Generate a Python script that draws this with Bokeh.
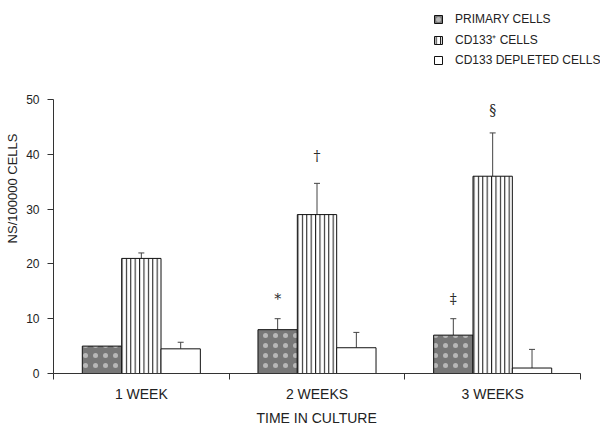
from bokeh.plotting import figure
from bokeh.models import (ColumnDataSource, Range1d, FixedTicker, Whisker, TeeHead,
                          Legend, LegendItem, Title)
from bokeh.core.properties import value
from bokeh.embed import file_html
from bokeh.resources import INLINE

# ---- data ----
categories = ["1 WEEK", "2 WEEKS", "3 WEEKS"]
series_names = ["PRIMARY CELLS", "CD133\u207a CELLS", "CD133 DEPLETED CELLS"]
primary = [5.0, 8.0, 7.0]
primary_err = [0.0, 2.0, 3.0]
cd133 = [21.0, 29.0, 36.0]
cd133_err = [1.0, 5.7, 7.9]
depleted = [4.5, 4.7, 1.0]
depleted_err = [1.2, 2.8, 3.4]
sig_labels = ["*", "\u2020", "\u2021", "\u00a7"]
sig_group = [1, 1, 2, 2]
sig_series = [0, 1, 0, 1]
sig_y = [13.6, 39.6, 13.6, 48.0]
y_ticks = [0, 10, 20, 30, 40, 50]
y_max = 50
x_title = "TIME IN CULTURE"
y_title = "NS/100000 CELLS"

FONT = "Liberation Sans"
TXT = "#222222"
AX = "#333333"
BW = 0.224

# axes span: x from 53 px to 580 px, y value 0 at 373 px and 50 at 99 px.
# The frame is extended to the top and right edges so the legend is not clipped.
n = len(categories)
px_per_unit = (373 - 99) / y_max
y_top = (373 - 3) / px_per_unit
x_right = n * (600 - 53) / (580 - 53)

p = figure(width=600, height=432, output_backend="svg", toolbar_location=None,
           x_range=Range1d(0, x_right), y_range=Range1d(0, y_top),
           min_border_left=53, min_border_right=0, min_border_top=3,
           min_border_bottom=59)
p.outline_line_color = None
p.xgrid.visible = False
p.ygrid.visible = False
p.background_fill_color = "white"
p.border_fill_color = "white"

series = [primary, cd133, depleted]
errs = [primary_err, cd133_err, depleted_err]
offsets = [-BW, 0.0, BW]
styles = [
    dict(fill_color="#777777", hatch_pattern="dot", hatch_color="#b8b8b8",
         hatch_scale=10, hatch_weight=2.5),
    dict(fill_color="white", hatch_pattern="vertical_line", hatch_color="#111111",
         hatch_scale=4.4, hatch_weight=1),
    dict(fill_color="white"),
]

renderers = []
for vals, er, off, st in zip(series, errs, offsets, styles):
    xs = [i + 0.5 + off for i in range(n)]
    src = ColumnDataSource(dict(x=xs, top=vals))
    r = p.vbar(x="x", top="top", width=BW, bottom=0, source=src,
               line_color="#111111", line_width=1, **st)
    renderers.append(r)
    wx, wl, wu = [], [], []
    for x, v, e in zip(xs, vals, er):
        if e > 0:
            wx.append(x); wl.append(v); wu.append(v + e)
    wsrc = ColumnDataSource(dict(base=wx, lower=wl, upper=wu))
    p.add_layout(Whisker(source=wsrc, base="base", lower="lower", upper="upper",
                         dimension="height", line_color="#444444", line_width=1,
                         lower_head=None,
                         upper_head=TeeHead(size=6, line_color="#444444", line_width=1)))

# significance marks
sx = [g + 0.5 + offsets[s] for g, s in zip(sig_group, sig_series)]
p.text(x=sx, y=sig_y, text=sig_labels, text_align="center", text_baseline="middle",
       text_font=value("DejaVu Serif"), text_font_size="14px", text_color="#2a2a2a")

# axes
xa = p.xaxis[0]
xa.ticker = FixedTicker(ticks=[i + 0.5 for i in range(n)],
                        minor_ticks=list(range(n + 1)))
xa.bounds = (0, n)
xa.major_label_overrides = {i + 0.5: c for i, c in enumerate(categories)}
xa.major_tick_line_color = None
xa.major_tick_out = 0
xa.major_tick_in = 0
xa.minor_tick_out = 6
xa.minor_tick_in = 0
xa.minor_tick_line_color = AX
xa.axis_line_color = AX
xa.major_label_text_font = FONT
xa.major_label_text_font_size = "14px"
xa.major_label_text_color = TXT
xa.major_label_standoff = 6

# x-axis title, centred under the 0..n axis span (frame is wider than the axis)
p.add_layout(Title(text=x_title, align="left", offset=203, vertical_align="middle",
                   standoff=8, text_font=FONT, text_font_size="14px",
                   text_font_style="normal", text_color=TXT), "below")

ya = p.yaxis[0]
ya.ticker = FixedTicker(ticks=y_ticks)
ya.bounds = (0, y_max)
ya.minor_tick_line_color = None
ya.major_tick_out = 6
ya.major_tick_in = 0
ya.major_tick_line_color = AX
ya.axis_line_color = AX
ya.major_label_text_font = FONT
ya.major_label_text_font_size = "12px"
ya.major_label_text_color = TXT
ya.major_label_standoff = 8
ya.axis_label = y_title
ya.axis_label_text_font = FONT
ya.axis_label_text_font_size = "13px"
ya.axis_label_text_font_style = "normal"
ya.axis_label_text_color = TXT
ya.axis_label_standoff = 3

legend = Legend(items=[LegendItem(label=nm, renderers=[r]) for nm, r in zip(series_names, renderers)],
                location=(380, 306), orientation="vertical",
                glyph_width=10, glyph_height=10, label_height=10, spacing=5,
                label_standoff=12, padding=0, margin=0,
                border_line_color=None, background_fill_alpha=0,
                label_text_font=FONT, label_text_font_size="12px",
                label_text_color=TXT)
p.add_layout(legend, "center")

open("out.html", "w").write(file_html(p, INLINE))
